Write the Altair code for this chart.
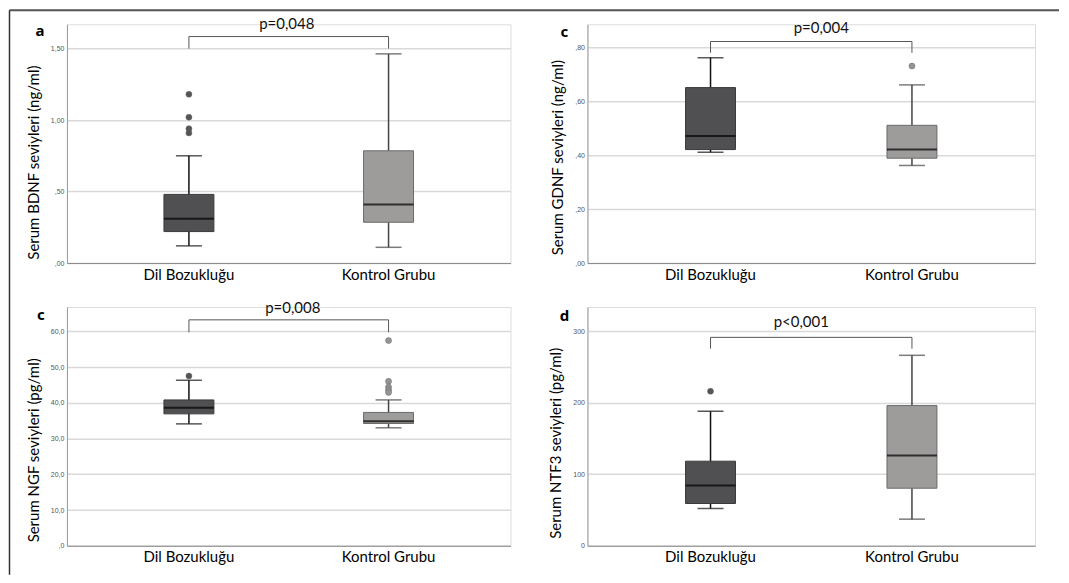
import altair as alt
import pandas as pd

groups = ["Dil Bozukluğu", "Kontrol Grubu"]

# BDNF (ng/ml)
bdnf_low = [0.12, 0.11]
bdnf_q1 = [0.22, 0.285]
bdnf_med = [0.31, 0.41]
bdnf_q3 = [0.48, 0.785]
bdnf_high = [0.75, 1.463]
bdnf_out_group = ["Dil Bozukluğu"] * 4
bdnf_out_value = [1.18, 1.02, 0.94, 0.91]

# GDNF (ng/ml)
gdnf_low = [0.411, 0.362]
gdnf_q1 = [0.421, 0.389]
gdnf_med = [0.4715, 0.421]
gdnf_q3 = [0.651, 0.511]
gdnf_high = [0.762, 0.661]
gdnf_out_group = ["Kontrol Grubu"]
gdnf_out_value = [0.731]

# NGF (pg/ml)
ngf_low = [34.1, 33.0]
ngf_q1 = [36.9, 34.2]
ngf_med = [38.6, 34.8]
ngf_q3 = [40.8, 37.3]
ngf_high = [46.3, 40.8]
ngf_out_group = ["Dil Bozukluğu"] + ["Kontrol Grubu"] * 5
ngf_out_value = [47.5, 57.4, 46.0, 44.4, 43.6, 42.9]

# NTF3 (pg/ml)
ntf3_low = [52.1, 37.2]
ntf3_q1 = [59.1, 80.5]
ntf3_med = [84.3, 126.2]
ntf3_q3 = [118.3, 196.1]
ntf3_high = [188.1, 266.4]
ntf3_out_group = ["Dil Bozukluğu"]
ntf3_out_value = [216.1]

# axis ticks and labels
bdnf_ticks = [0, 0.5, 1.0, 1.5]
bdnf_tick_labels = [",00", ",50", "1,00", "1,50"]
gdnf_ticks = [0, 0.2, 0.4, 0.6, 0.8]
gdnf_tick_labels = [",00", ",20", ",40", ",60", ",80"]
ngf_ticks = [0, 10, 20, 30, 40, 50, 60]
ngf_tick_labels = [",0", "10,0", "20,0", "30,0", "40,0", "50,0", "60,0"]
ntf3_ticks = [0, 100, 200, 300]
ntf3_tick_labels = ["0", "100", "200", "300"]

# y domain maxima
y_max = [1.67, 0.886, 66.8, 334]

# significance brackets (bottom, top) and p texts
brackets = [(1.5, 1.584), (0.78, 0.822), (59.7, 63.2), (275.7, 291.5)]
p_texts = ["p=0,048", "p=0,004", "p=0,008", "p<0,001"]
p_text_y = [1.67, 0.871, 66.6, 313]
p_text_x = [220, 234, 226, 214]
letters = ["a", "c", "c", "d"]
letter_pos = [(-27, 7), (-23, 8), (-26, 8), (-23, 9)]
y_titles = ["Serum BDNF seviyleri (ng/ml)", "Serum GDNF seviyleri (ng/ml)",
            "Serum NGF seviyleri (pg/ml)", "Serum NTF3 seviyleri (pg/ml)"]
title_y = [138, 133, 143, 136]

box_fill = ["#505052", "#9e9b9b"]
box_stroke = ["#3a3a3a", "#6a6a6a"]
whisker_col = ["#111111", "#444444"]
out_col = ["#555555", "#959595"]

FONT = "Lato"


def panel(idx, low, q1, med, q3, high, og, ov, ticks, tlabels, width, height, frame=False):
    df = pd.DataFrame({"group": groups, "low": low, "q1": q1, "med": med, "q3": q3, "high": high})
    odf = pd.DataFrame({"group": og, "value": ov})
    b0, b1 = brackets[idx]
    bdf = pd.DataFrame({"group": [groups[0], groups[0], groups[1], groups[1]],
                        "y": [b0, b1, b1, b0], "order": [0, 1, 2, 3]})
    tick_list = ",".join(repr(t) for t in ticks)
    lab_list = ",".join("'" + s + "'" for s in tlabels)
    y_scale = alt.Scale(domain=[0, y_max[idx]], nice=False, zero=True)
    x_enc = alt.X("group:N", scale=alt.Scale(domain=groups, paddingInner=0, paddingOuter=0.111),
                  axis=alt.Axis(title=None, labelAngle=0, ticks=False, labelFontSize=15,
                                labelFont=FONT, labelColor="#000", labelPadding=4,
                                domainColor="#8a8a8a", domainWidth=1, grid=False))
    y_axis = alt.Axis(title=y_titles[idx], titleFont=FONT, titleFontSize=15, titleFontWeight="normal",
                      titleColor="#000", titlePadding=9, titleY=title_y[idx],
                      values=ticks, labelOverlap=False,
                      labelExpr="[" + lab_list + "][indexof([" + tick_list + "], datum.value)]",
                      labelFontSize=7, labelFont="Liberation Sans", labelColor="#555",
                      labelPadding=3, ticks=False, tickSize=0, domainColor="#9a9a9a", domainWidth=1,
                      grid=True, gridColor="#d9d9d9", gridWidth=1.5)

    def Y(field):
        return alt.Y(field, scale=y_scale, axis=y_axis)

    col_w = alt.Color("group:N", scale=alt.Scale(domain=groups, range=whisker_col), legend=None)
    base = alt.Chart(df)
    whisk = base.mark_rule(strokeWidth=1.5).encode(
        x=x_enc, y=Y("low:Q"), y2="high:Q", color=col_w)
    caps_lo = base.mark_tick(orient="horizontal", size=26, thickness=1.5).encode(
        x=x_enc, y=Y("low:Q"), color=col_w)
    caps_hi = base.mark_tick(orient="horizontal", size=26, thickness=1.5).encode(
        x=x_enc, y=Y("high:Q"), color=col_w)
    box = base.mark_bar(size=50, strokeWidth=1).encode(
        x=x_enc, y=Y("q1:Q"), y2="q3:Q",
        fill=alt.Fill("group:N", scale=alt.Scale(domain=groups, range=box_fill), legend=None),
        stroke=alt.Stroke("group:N", scale=alt.Scale(domain=groups, range=box_stroke), legend=None))
    median = base.mark_tick(orient="horizontal", size=50, thickness=2, color="#000").encode(
        x=x_enc, y=Y("med:Q"))
    layers = [whisk, caps_lo, caps_hi, box, median]
    if len(odf):
        outs = alt.Chart(odf).mark_circle(size=36, opacity=1, stroke="#666", strokeWidth=0.5).encode(
            x=x_enc, y=Y("value:Q"),
            color=alt.Color("group:N", scale=alt.Scale(domain=groups, range=out_col), legend=None))
        layers.append(outs)
    bracket = alt.Chart(bdf).mark_line(color="#555", strokeWidth=1).encode(
        x=x_enc, y=Y("y:Q"), order="order:O")
    layers.append(bracket)
    ptxt = alt.Chart(pd.DataFrame({"t": [p_texts[idx]], "y": [p_text_y[idx]]})).mark_text(
        font=FONT, fontSize=15, color="#111", baseline="middle", align="center").encode(
        x=alt.value(p_text_x[idx]), y=Y("y:Q"), text="t:N")
    layers.append(ptxt)
    lx, ly = letter_pos[idx]
    let = alt.Chart(pd.DataFrame({"t": [letters[idx]]})).mark_text(
        font="Noto Sans", fontSize=15, fontWeight="bold", color="#000", baseline="middle",
        align="center").encode(x=alt.value(lx), y=alt.value(ly), text="t:N")
    layers.append(let)
    if frame:
        top_line = alt.Chart(pd.DataFrame({"k": [0]})).mark_rule(color="#555", strokeWidth=2).encode(
            x=alt.value(-57.5), x2=alt.value(993), y=alt.value(-14))
        left_line = alt.Chart(pd.DataFrame({"k": [0]})).mark_rule(color="#333", strokeWidth=1.5).encode(
            x=alt.value(-57.5), y=alt.value(-14), y2=alt.value(551))
        layers += [top_line, left_line]
    return alt.layer(*layers).resolve_scale(color="independent", fill="independent",
                                            stroke="independent").properties(width=width, height=height)


pa = panel(0, bdnf_low, bdnf_q1, bdnf_med, bdnf_q3, bdnf_high, bdnf_out_group, bdnf_out_value,
           bdnf_ticks, bdnf_tick_labels, 444, 239, frame=True)
pb = panel(1, gdnf_low, gdnf_q1, gdnf_med, gdnf_q3, gdnf_high, gdnf_out_group, gdnf_out_value,
           gdnf_ticks, gdnf_tick_labels, 448, 239)
pc = panel(2, ngf_low, ngf_q1, ngf_med, ngf_q3, ngf_high, ngf_out_group, ngf_out_value,
           ngf_ticks, ngf_tick_labels, 444, 239)
pd_ = panel(3, ntf3_low, ntf3_q1, ntf3_med, ntf3_q3, ntf3_high, ntf3_out_group, ntf3_out_value,
            ntf3_ticks, ntf3_tick_labels, 448, 239)

chart = alt.concat(pa, pb, pc, pd_, columns=2, spacing={"row": 44, "column": 77},
                   bounds="flush").properties(padding=0).configure_view(strokeWidth=0).configure(
    background="white")

chart.save("out.html", embed_options={"renderer": "svg", "actions": False})
